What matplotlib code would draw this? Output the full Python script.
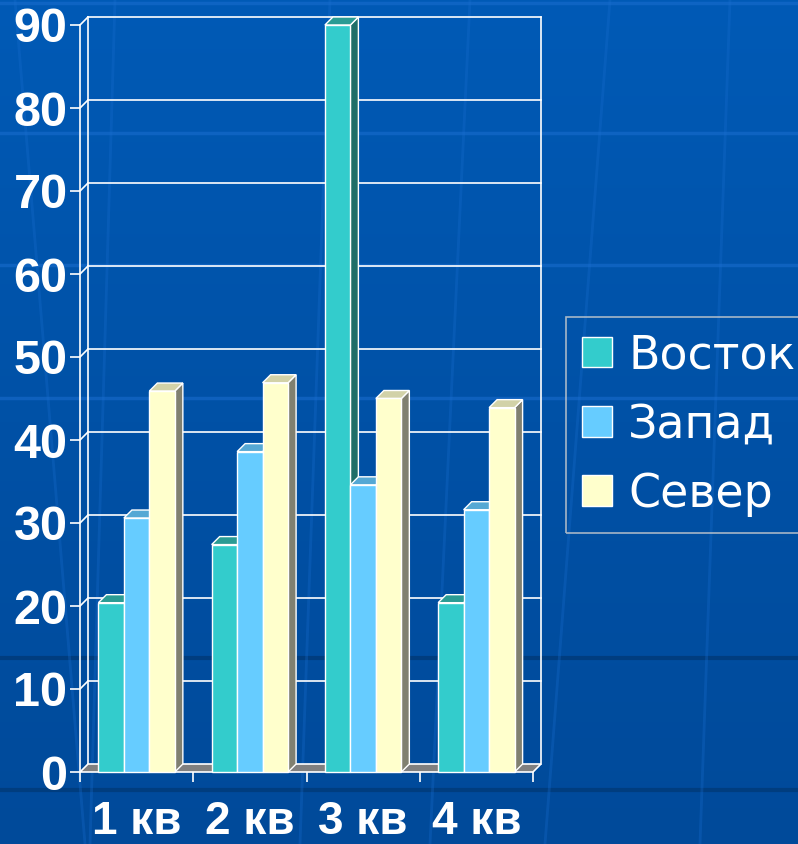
import matplotlib
matplotlib.use("Agg")
import matplotlib.pyplot as plt
from matplotlib.patches import Polygon
from matplotlib.colors import LinearSegmentedColormap
import numpy as np

quarters = ["1 кв", "2 кв", "3 кв", "4 кв"]
series = ["Восток", "Запад", "Север"]
vostok = [20.4, 27.4, 90, 20.4]
zapad = [30.6, 38.6, 34.6, 31.6]
sever = [45.9, 46.9, 45, 43.9]
yticks = [0, 10, 20, 30, 40, 50, 60, 70, 80, 90]

front_colors = ["#33CCCC", "#66CCFF", "#FFFFCC"]
top_colors = ["#2A9C94", "#55A8D4", "#D2D2A8"]
side_colors = ["#1F6E68", "#3F7EA0", "#808070"]

W, H = 798, 844
fig = plt.figure(figsize=(W / 100, H / 100), dpi=100)

# background: blue gradient with a few faint template streaks
bg = fig.add_axes([0, 0, 1, 1], zorder=-10)
grad = np.linspace(0, 1, 256).reshape(-1, 1)
cmap = LinearSegmentedColormap.from_list("bg", ["#005AB6", "#0051A6", "#004A9A"])
bg.imshow(grad, aspect="auto", cmap=cmap, extent=[0, W, H, 0])
bg.set_xlim(0, W)
bg.set_ylim(H, 0)
for y in [3, 133, 265, 398]:
    bg.axhline(y, color="#1A6ED0", lw=2.5, alpha=0.55)
for y in [658, 790]:
    bg.axhline(y, color="#003A78", lw=3, alpha=0.8)
for x0, x1 in [(15, 85), (115, 90), (470, 430), (610, 545), (730, 700), (330, 300)]:
    bg.plot([x0, x1], [0, H], color="#1A6ED0", lw=2, alpha=0.3)
bg.axis("off")

# main axes = front plane of the 3D box
left, right, y0px, y90px = 80, 533, 772, 25
ax = fig.add_axes([left / W, (H - y0px) / H, (right - left) / W, (y0px - y90px) / H])
ax.patch.set_visible(False)
ax.set_xlim(-0.5, 3.5)
ax.set_ylim(0, 90)

depth = 8  # px
dx = depth * 4 / (right - left)
dy = depth * 90 / (y0px - y90px)

# back wall gridlines and edges
for v in yticks[1:]:
    ax.plot([-0.5 + dx, 3.5 + dx], [v + dy, v + dy], color="white", lw=1.2, zorder=1, clip_on=False)
    ax.plot([-0.5, -0.5 + dx], [v, v + dy], color="white", lw=1.2, zorder=1, clip_on=False)
ax.plot([-0.5 + dx, -0.5 + dx], [dy, 90 + dy], color="white", lw=1.2, zorder=1, clip_on=False)
ax.plot([3.5 + dx, 3.5 + dx], [dy, 90 + dy], color="white", lw=1.2, zorder=1, clip_on=False)

# floor
ax.add_patch(Polygon([(-0.5, 0), (3.5, 0), (3.5 + dx, dy), (-0.5 + dx, dy)],
                     closed=True, facecolor="#808080", edgecolor="white", lw=1.2,
                     zorder=2, clip_on=False))

# bars
bw = 0.225
values = [vostok, zapad, sever]
x = np.arange(len(quarters))
z = 3
handles = []
for q in range(len(quarters)):
    for i, vals in enumerate(values):
        v = vals[q]
        x0 = x[q] + (i - 1) * bw - bw / 2
        x1 = x0 + bw
        ax.add_patch(Polygon([(x1, 0), (x1, v), (x1 + dx, v + dy), (x1 + dx, dy)],
                             closed=True, facecolor=side_colors[i], edgecolor="white",
                             lw=1.0, zorder=z, clip_on=False))
        ax.add_patch(Polygon([(x0, v), (x1, v), (x1 + dx, v + dy), (x0 + dx, v + dy)],
                             closed=True, facecolor=top_colors[i], edgecolor="white",
                             lw=1.0, zorder=z, clip_on=False))
        b = ax.bar(x0, v, width=bw, align="edge", color=front_colors[i],
                   edgecolor="white", lw=1.0, zorder=z + 0.5, clip_on=False,
                   label=series[i] if q == 0 else None)
        if q == 0:
            handles.append(b)
        z += 1

# axes styling
for s in ["top", "right", "bottom"]:
    ax.spines[s].set_visible(False)
ax.spines["left"].set_color("white")
ax.spines["left"].set_linewidth(1.2)
ax.set_yticks(yticks)
ax.set_yticklabels([str(t) for t in yticks], fontfamily="Liberation Sans",
                   fontweight="bold", fontsize=35, color="white")
ax.tick_params(axis="y", colors="white", length=7, width=1.2, pad=2)
ax.set_xticks(x)
ax.set_xticklabels(quarters, fontfamily="Liberation Sans", fontweight="bold",
                   fontsize=33, color="white")
ax.set_xticks(np.arange(-0.5, 4, 1), minor=True)
ax.tick_params(axis="x", which="major", length=0, pad=20)
ax.tick_params(axis="x", which="minor", length=7, width=1.2, colors="white")

leg = fig.legend(handles=handles, labels=series, loc="upper left",
                 bbox_to_anchor=(566 / W, 1 - 317 / H), borderaxespad=0,
                 prop={"family": "DejaVu Sans", "size": 33},
                 frameon=True, fancybox=False, handlelength=0.66, handleheight=0.66,
                 handletextpad=0.35, labelspacing=0.53, borderpad=0.35)
leg.get_frame().set_facecolor("none")
leg.get_frame().set_edgecolor("#D0D0D0")
leg.get_frame().set_linewidth(1.2)
for t in leg.get_texts():
    t.set_color("white")

fig.savefig("out.png", dpi=100)
